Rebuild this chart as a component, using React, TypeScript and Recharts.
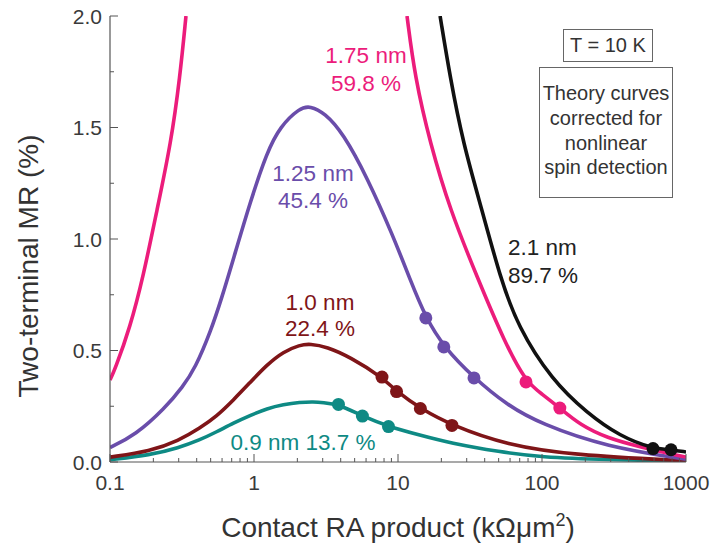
import { ComposedChart, Line, Scatter, XAxis, YAxis } from "recharts";

// theory curves (x = contact RA in kΩµm², y = MR in %)
const teal = [
  { x: 0.1, y: 0.01 }, { x: 0.19, y: 0.031 }, { x: 0.3, y: 0.064 }, { x: 0.42, y: 0.099 },
  { x: 0.55, y: 0.135 }, { x: 0.72, y: 0.175 }, { x: 0.95, y: 0.21 }, { x: 1.23, y: 0.24 },
  { x: 1.6, y: 0.258 }, { x: 2.08, y: 0.268 }, { x: 2.6, y: 0.27 }, { x: 3.0, y: 0.267 },
  { x: 3.86, y: 0.258 }, { x: 5.66, y: 0.206 }, { x: 8.59, y: 0.159 }, { x: 14.2, y: 0.12 },
  { x: 23, y: 0.085 }, { x: 51, y: 0.045 }, { x: 97, y: 0.022 }, { x: 282, y: 0.01 }, { x: 1000, y: 0.004 },
];
const darkRed = [
  { x: 0.1, y: 0.022 }, { x: 0.19, y: 0.048 }, { x: 0.3, y: 0.096 }, { x: 0.42, y: 0.152 },
  { x: 0.55, y: 0.205 }, { x: 0.72, y: 0.278 }, { x: 0.95, y: 0.36 }, { x: 1.23, y: 0.436 },
  { x: 1.6, y: 0.495 }, { x: 2.08, y: 0.525 }, { x: 2.45, y: 0.53 }, { x: 3.2, y: 0.517 },
  { x: 4.64, y: 0.471 }, { x: 7.74, y: 0.381 }, { x: 9.77, y: 0.316 }, { x: 14.3, y: 0.24 },
  { x: 23.7, y: 0.164 }, { x: 57, y: 0.076 }, { x: 164, y: 0.031 }, { x: 1000, y: 0.005 },
];
const purple = [
  { x: 0.1, y: 0.065 }, { x: 0.15, y: 0.12 }, { x: 0.24, y: 0.24 }, { x: 0.32, y: 0.337 },
  { x: 0.39, y: 0.42 }, { x: 0.5, y: 0.585 }, { x: 0.6, y: 0.74 }, { x: 0.715, y: 0.905 },
  { x: 0.94, y: 1.165 }, { x: 1.23, y: 1.39 }, { x: 1.52, y: 1.505 }, { x: 2.08, y: 1.588 },
  { x: 2.45, y: 1.597 }, { x: 3.1, y: 1.565 }, { x: 4.15, y: 1.475 }, { x: 6.09, y: 1.278 },
  { x: 9.23, y: 1.015 }, { x: 12.1, y: 0.82 }, { x: 15.6, y: 0.646 }, { x: 20.8, y: 0.516 },
  { x: 33.7, y: 0.377 }, { x: 57, y: 0.256 }, { x: 97, y: 0.172 }, { x: 282, y: 0.067 }, { x: 1000, y: 0.012 },
];
const pinkLeft = [
  { x: 0.1, y: 0.368 }, { x: 0.108, y: 0.413 }, { x: 0.138, y: 0.605 }, { x: 0.17, y: 0.83 },
  { x: 0.212, y: 1.13 }, { x: 0.265, y: 1.43 }, { x: 0.306, y: 1.726 }, { x: 0.337, y: 2.0 },
];
const pinkRight = [
  { x: 11.55, y: 2.0 }, { x: 13.1, y: 1.726 }, { x: 16.7, y: 1.43 }, { x: 23, y: 1.13 },
  { x: 35.4, y: 0.83 }, { x: 55.3, y: 0.534 }, { x: 77.4, y: 0.359 }, { x: 100, y: 0.305 },
  { x: 133, y: 0.242 }, { x: 184, y: 0.166 }, { x: 282, y: 0.108 }, { x: 479, y: 0.067 }, { x: 1000, y: 0.022 },
];
const black = [
  { x: 19.6, y: 2.0 }, { x: 23, y: 1.726 }, { x: 28.3, y: 1.43 }, { x: 38.3, y: 1.13 },
  { x: 51.1, y: 0.83 }, { x: 68.1, y: 0.605 }, { x: 117, y: 0.368 }, { x: 205, y: 0.22 },
  { x: 348, y: 0.115 }, { x: 590, y: 0.06 }, { x: 787, y: 0.055 }, { x: 1000, y: 0.045 },
];

// measured points
const tealPts = [{ x: 3.86, y: 0.258 }, { x: 5.66, y: 0.206 }, { x: 8.59, y: 0.159 }];
const darkRedPts = [{ x: 7.74, y: 0.381 }, { x: 9.77, y: 0.316 }, { x: 14.3, y: 0.24 }, { x: 23.7, y: 0.164 }];
const purplePts = [{ x: 15.6, y: 0.646 }, { x: 20.8, y: 0.516 }, { x: 33.7, y: 0.377 }];
const pinkPts = [{ x: 77.4, y: 0.359 }, { x: 133, y: 0.242 }];
const blackPts = [{ x: 590, y: 0.06 }, { x: 787, y: 0.055 }];

const xMajor = [0.1, 1, 10, 100, 1000];
const xTicks = [
  0.1, 0.2, 0.3, 0.4, 0.5, 0.6, 0.7, 0.8, 0.9,
  1, 2, 3, 4, 5, 6, 7, 8, 9,
  10, 20, 30, 40, 50, 60, 70, 80, 90,
  100, 200, 300, 400, 500, 600, 700, 800, 900, 1000,
];
const yTicks = [0, 0.25, 0.5, 0.75, 1, 1.25, 1.5, 1.75, 2];
const yMajor = [0, 0.5, 1, 1.5, 2];

const FONT = "'Liberation Sans', Arial, sans-serif";
const AXIS = "#555";
const LABEL = "#3a3a3a";

const C = {
  teal: "#0e8a84",
  darkRed: "#7f1518",
  purple: "#6a4daa",
  pink: "#ec1c7b",
  black: "#111111",
};

function BottomTick({ x, y, payload }: any) {
  const major = xMajor.includes(payload.value);
  return (
    <g>
      <line x1={x} x2={x} y1={y} y2={y - (major ? 8 : 4)} stroke={AXIS} strokeWidth={1} />
      {major && (
        <text x={x} y={y + 28} textAnchor="middle" fontSize={21} fontFamily={FONT} fill={LABEL}>
          {payload.value}
        </text>
      )}
    </g>
  );
}

function TopTick({ x, y, payload }: any) {
  const major = xMajor.includes(payload.value);
  return <line x1={x} x2={x} y1={y} y2={y + (major ? 8 : 4)} stroke={AXIS} strokeWidth={1} />;
}

function LeftTick({ x, y, payload }: any) {
  const major = yMajor.includes(payload.value);
  return (
    <g>
      <line x1={x} x2={x + (major ? 8 : 4)} y1={y} y2={y} stroke={AXIS} strokeWidth={1} />
      {major && (
        <text x={x - 8} y={y + 7.5} textAnchor="end" fontSize={21} fontFamily={FONT} fill={LABEL}>
          {payload.value.toFixed(1)}
        </text>
      )}
    </g>
  );
}

function RightTick({ x, y, payload }: any) {
  const major = yMajor.includes(payload.value);
  return <line x1={x} x2={x - (major ? 8 : 4)} y1={y} y2={y} stroke={AXIS} strokeWidth={1} />;
}

const dot = (color: string) => (p: any) => <circle cx={p.cx} cy={p.cy} r={6.5} fill={color} />;

export default function App() {
  const curves: [any[], string][] = [
    [teal, C.teal],
    [darkRed, C.darkRed],
    [purple, C.purple],
    [pinkLeft, C.pink],
    [pinkRight, C.pink],
    [black, C.black],
  ];
  const points: [any[], string][] = [
    [tealPts, C.teal],
    [darkRedPts, C.darkRed],
    [purplePts, C.purple],
    [pinkPts, C.pink],
    [blackPts, C.black],
  ];

  return (
    <div style={{ position: "absolute", left: 0, top: 0, width: 712, height: 546, background: "#fff" }}>
      <ComposedChart width={712} height={546} margin={{ top: 16, right: 26, bottom: 0, left: 0 }}>
        <XAxis
          xAxisId="b"
          dataKey="x"
          type="number"
          scale="log"
          domain={[0.1, 1000]}
          allowDataOverflow
          ticks={xTicks}
          interval={0}
          height={84}
          tickSize={0}
          tickMargin={0}
          tickLine={false}
          tick={<BottomTick />}
          axisLine={{ stroke: AXIS, strokeWidth: 1.2 }}
        />
        <XAxis
          xAxisId="t"
          orientation="top"
          dataKey="x"
          type="number"
          scale="log"
          domain={[0.1, 1000]}
          allowDataOverflow
          ticks={xTicks}
          interval={0}
          height={0}
          tickSize={0}
          tickMargin={0}
          tickLine={false}
          tick={<TopTick />}
          axisLine={{ stroke: AXIS, strokeWidth: 1.2 }}
        />
        <YAxis
          yAxisId="l"
          dataKey="y"
          type="number"
          domain={[0, 2]}
          allowDataOverflow
          ticks={yTicks}
          interval={0}
          width={110}
          tickSize={0}
          tickMargin={0}
          tickLine={false}
          tick={<LeftTick />}
          axisLine={{ stroke: AXIS, strokeWidth: 1.2 }}
        />
        <YAxis
          yAxisId="r"
          orientation="right"
          dataKey="y"
          type="number"
          domain={[0, 2]}
          allowDataOverflow
          ticks={yTicks}
          interval={0}
          width={0}
          tickSize={0}
          tickMargin={0}
          tickLine={false}
          tick={<RightTick />}
          axisLine={{ stroke: AXIS, strokeWidth: 1.2 }}
        />
        {curves.map(([d, c], i) => (
          <Line
            key={"l" + i}
            xAxisId="b"
            yAxisId="l"
            data={d}
            dataKey="y"
            type="basis"
            stroke={c}
            strokeWidth={3.6}
            dot={false}
            activeDot={false}
            isAnimationActive={false}
          />
        ))}
        {points.map(([d, c], i) => (
          <Scatter
            key={"s" + i}
            xAxisId="b"
            yAxisId="l"
            data={d}
            dataKey="y"
            fill={c}
            shape={dot(c)}
            isAnimationActive={false}
          />
        ))}
      </ComposedChart>

      <svg
        width={712}
        height={546}
        style={{ position: "absolute", left: 0, top: 0, pointerEvents: "none" }}
        fontFamily={FONT}
      >
        <g fontSize={22.5} textAnchor="middle">
          <text x={366} y={63} fill={C.pink}>1.75 nm</text>
          <text x={366} y={91} fill={C.pink}>59.8 %</text>
          <text x={313} y={181} fill={C.purple}>1.25 nm</text>
          <text x={313} y={208} fill={C.purple}>45.4 %</text>
          <text x={320} y={310} fill={C.darkRed}>1.0 nm</text>
          <text x={320} y={336} fill={C.darkRed}>22.4 %</text>
          <text x={303} y={450} fill={C.teal}>0.9 nm 13.7 %</text>
          <text x={508} y={255} textAnchor="start" fill="#222">2.1 nm</text>
          <text x={508} y={283} textAnchor="start" fill="#222">89.7 %</text>
        </g>

        <rect x={563.5} y={29.5} width={89} height={32} fill="#fff" stroke="#666" strokeWidth={1} />
        <text x={608} y={52} fontSize={20} textAnchor="middle" fill="#333">T = 10 K</text>

        <rect x={539.5} y={67.5} width={133} height={130} fill="#fff" stroke="#666" strokeWidth={1} />
        <g fontSize={20} textAnchor="middle" fill="#333">
          <text x={606} y={100}>Theory curves</text>
          <text x={606} y={125}>corrected for</text>
          <text x={606} y={150}>nonlinear</text>
          <text x={606} y={174}>spin detection</text>
        </g>

        <text x={398} y={537} fontSize={28} textAnchor="middle" fill="#333">
          Contact RA product (kΩμm
          <tspan fontSize={18} dy={-11}>2</tspan>
          <tspan dy={11}>)</tspan>
        </text>
        <text x={38} y={266} fontSize={28} textAnchor="middle" fill="#333" transform="rotate(-90, 38, 266)">
          Two-terminal MR (%)
        </text>
      </svg>
    </div>
  );
}
